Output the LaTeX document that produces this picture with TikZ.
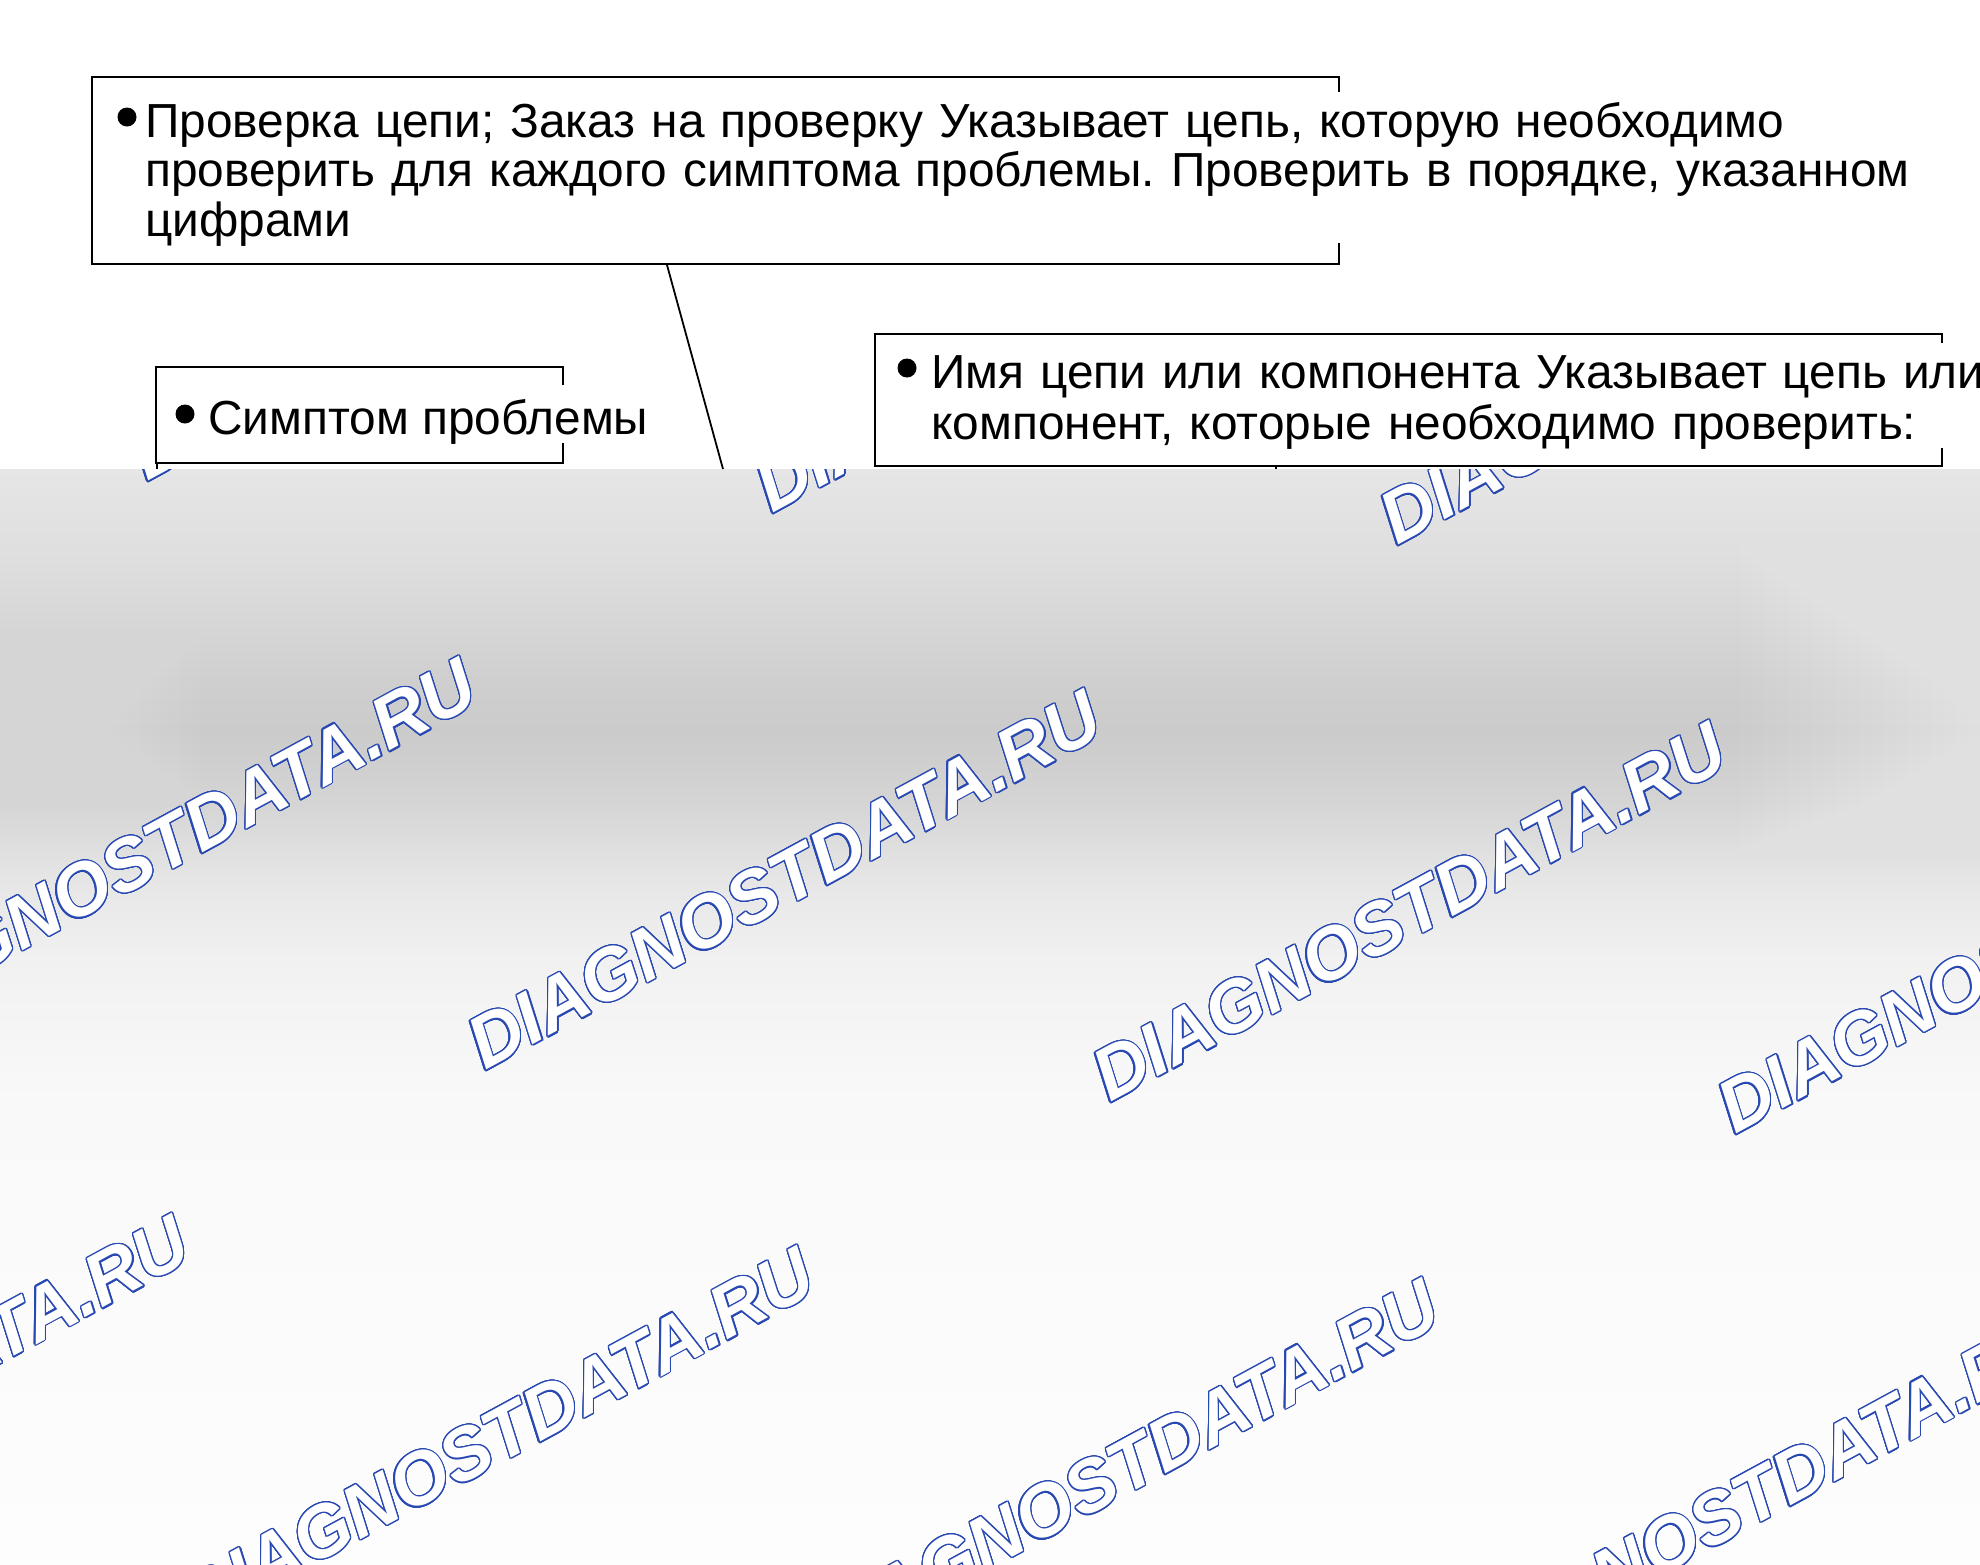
\documentclass[tikz,border=0pt]{standalone}
\usepackage{fontspec}
\setmainfont{Liberation Sans}
\newfontfamily\wmfont{Liberation Sans}
\usepackage{contour}
\contourlength{1.3pt}
\contournumber{24}
\frenchspacing
\definecolor{wmblue}{RGB}{40,72,178}
\definecolor{ca}{HTML}{E6E6E6}
\definecolor{cb}{HTML}{DEDEDE}
\definecolor{cc}{HTML}{CFCFCF}
\definecolor{cd}{HTML}{CBCBCB}
\definecolor{ce}{HTML}{D4D4D4}
\definecolor{cf}{HTML}{E6E6E6}
\definecolor{cg}{HTML}{F1F1F1}
\definecolor{ch}{HTML}{F9F9F9}
\definecolor{ci}{HTML}{FDFDFD}
\pgfdeclareverticalshading{bgshade}{100bp}{color(0bp)=(ci); color(25bp)=(ci); color(46.2bp)=(ch); color(52.6bp)=(cg); color(56.2bp)=(cf); color(59.9bp)=(ce); color(63.1bp)=(cd); color(65.4bp)=(cc); color(70.8bp)=(cb); color(75bp)=(ca); color(100bp)=(ca)}
\begin{document}
\begin{tikzpicture}[x=1pt,y=-1pt,
  box/.style={draw=black, line width=2pt, anchor=north west, inner sep=0pt},
  txt/.style={fill=white, inner xsep=0pt, inner ysep=0pt, anchor=base west, align=left, font=\fontsize{47.8}{49.5}\selectfont},
  dot/.style={circle, fill=black, inner sep=0pt, minimum size=19pt},
  lead/.style={line width=1.8pt},
  wm/.style={rotate=28.5, anchor=south west, inner sep=0pt, font=\wmfont\bfseries\itshape\fontsize{73.5}{73.5}\selectfont}]
\useasboundingbox (0,0) rectangle (1980,1564);
\fill[white] (0,0) rectangle (1980,1564);
% shaded lower area
\shade[shading=bgshade] (0,469) rectangle (1980,1564);
\foreach \i in {0,...,19} {\fill[white, opacity=0.022] (0,469) rectangle ({200-10*\i},1564);}
\foreach \i in {0,...,19} {\fill[white, opacity=0.03] ({1740+12*\i},469) rectangle (1980,1564);}
% watermarks
\foreach \n/\x/\y in {a/148/484, b/773/516, c/1398/548,
                      d/-139/1041, e/486/1073, f/1111/1105, g/1736/1137,
                      h/-426/1598, i/199/1630, j/824/1662, k/1449/1694}
  {\node[wm] (w\n) at (\x,\y) {\contour{wmblue}{\textcolor{white}{DIAGNOSTDATA.RU}}};}
% white top area
\fill[white] (0,0) rectangle (1980,469);
% boxes
\node[box, minimum width=1247pt, minimum height=187pt] (box1) at (91,76) {};
\node[box, minimum width=407pt, minimum height=96pt] (box2) at (155,366) {};
\node[box, minimum width=1067pt, minimum height=132pt] (box3) at (874,333) {};
% texts
\node[txt, text width=1830pt, text height=45pt, text depth=106pt] (t1) at (145,137)
  {Проверка цепи; Заказ на проверку Указывает цепь, которую необходимо\\проверить для каждого симптома проблемы. Проверить в порядке, указанном\\цифрами};
\node[txt, text height=49pt, text depth=9pt] (t2) at (208,434) {Симптом проблемы};
\node[txt, text width=1300pt, text height=45pt, text depth=60pt, font=\fontsize{47.8}{51}\selectfont] (t3) at (931,388)
  {Имя цепи или компонента Указывает цепь или\\компонент, которые необходимо проверить:};
% bullets
\node[dot] (d1) at (127,117) {};
\node[dot] (d2) at (185,414) {};
\node[dot] (d3) at (907,368) {};
% leaders
\coordinate (e1) at (723,469);
\coordinate (e2) at (157,469);
\coordinate (e3) at (1276,469);
\draw[lead] ([xshift=576pt]box1.south west) -- (e1);
\draw[lead] ([xshift=2pt]box2.south west) -- (e2);
\draw[lead] ([xshift=402pt]box3.south west) -- (e3);
\end{tikzpicture}
\end{document}
